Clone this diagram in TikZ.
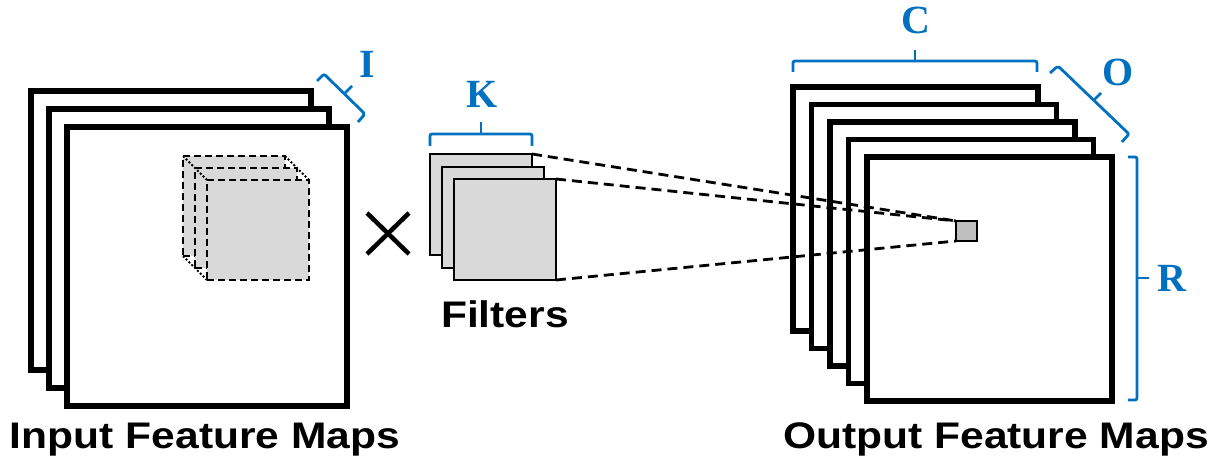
\documentclass[tikz,border=0pt]{standalone}
\usepackage{fontspec}
\setmainfont{Liberation Sans}
\newfontfamily\labfont{Liberation Serif}
\definecolor{bblue}{HTML}{0070C0}
\definecolor{lgray}{HTML}{D9D9D9}
\definecolor{mgray}{HTML}{BFBFBF}
\begin{document}
\begin{tikzpicture}[x=1pt,y=-1pt,
  plane/.style={draw=black, line width=5.5pt, fill=white, inner sep=0pt, outer sep=0pt, anchor=north west},
  inplane/.style={plane, minimum width=280pt, minimum height=279pt},
  outplane/.style={plane, minimum width=245pt, minimum height=244pt},
  cubeface/.style={draw=black, line width=2.7pt, dash pattern=on 7pt off 4pt, fill=lgray, inner sep=0pt, outer sep=0pt, anchor=north west, minimum width=102pt, minimum height=100pt},
  filterface/.style={draw=black, line width=2.8pt, fill=lgray, inner sep=0pt, outer sep=0pt, anchor=north west, minimum width=102pt, minimum height=101pt},
  cell/.style={draw=black, line width=2.8pt, fill=mgray, inner sep=0pt, outer sep=0pt, anchor=north west, minimum width=21pt, minimum height=20pt},
  bracket/.style={draw=bblue, line width=2.8pt, rounded corners=2pt},
  dimlabel/.style={text=bblue, font=\labfont\bfseries\fontsize{40}{44}\selectfont, anchor=base, inner sep=0pt},
  caption/.style={font=\bfseries\fontsize{37}{42}\selectfont, anchor=base, inner sep=0pt},
  rays/.style={draw=black, line width=2.8pt, dash pattern=on 10pt off 6pt},
  hidden/.style={draw=black, line width=2pt, dotted}
]
\useasboundingbox[fill=white] (0,0) rectangle (1211,465);

% input feature maps
\node[inplane] (in1) at (31,91) {};
\node[inplane] (in2) at (49,109) {};
\node[inplane] (in3) at (67,127) {};

% window cube
\node[cubeface] (c1) at (183,156) {};
\node[cubeface] (c2) at (195,168) {};
\node[cubeface] (c3) at (207,180) {};
\draw[hidden] (c1.north west) -- (c3.north west);
\draw[hidden] (c1.north east) -- (c3.north east);
\draw[hidden] (c1.south west) -- (c3.south west);

% I bracket
\coordinate (ia) at (317,81);
\coordinate (ib) at (324,74);
\coordinate (ic) at (365,114);
\coordinate (id) at (358,122);
\coordinate (it0) at (345,93);
\coordinate (it1) at (352,86);
\draw[bracket] (ia) -- (ib) -- (ic) -- (id);
\draw[bracket] (it0) -- (it1);
\node[dimlabel] (ilab) at (367,78) {I};

% times sign
\coordinate (x1) at (367,213);
\coordinate (x2) at (409,254);
\coordinate (x3) at (367,254);
\coordinate (x4) at (409,213);
\draw[line width=4.5pt] (x1) -- (x2);
\draw[line width=4.5pt] (x3) -- (x4);

% filters
\node[filterface] (f1) at (430,154) {};
\node[filterface] (f2) at (442,167) {};
\node[filterface] (f3) at (454,179) {};
\coordinate (ka) at (430,146);
\coordinate (kb) at (430,134);
\coordinate (kc) at (532,134);
\coordinate (kd) at (532,146);
\coordinate (kt0) at (481,134);
\coordinate (kt1) at (481,122);
\draw[bracket] (ka) -- (kb) -- (kc) -- (kd);
\draw[bracket] (kt0) -- (kt1);
\node[dimlabel] (klab) at (482,108) {K};
\node[caption] (flab) at (505,327.5) {\scalebox{1.15}[1]{Filters}};

% output feature maps
\node[outplane] (o1) at (793,87) {};
\node[outplane] (o2) at (811.5,104.5) {};
\node[outplane] (o3) at (830,122) {};
\node[outplane] (o4) at (848.5,139.5) {};
\node[outplane] (o5) at (867,157) {};
\node[cell] (sq) at (956,221) {};

% C bracket
\coordinate (ca) at (793,72);
\coordinate (cb) at (793,61);
\coordinate (cc) at (1037,61);
\coordinate (cd) at (1037,72);
\coordinate (ct0) at (915,61);
\coordinate (ct1) at (915,50);
\draw[bracket] (ca) -- (cb) -- (cc) -- (cd);
\draw[bracket] (ct0) -- (ct1);
\node[dimlabel] (clab) at (916,34) {C};

% O bracket
\coordinate (oa) at (1050,73);
\coordinate (ob) at (1058,66);
\coordinate (oc) at (1129,134);
\coordinate (od) at (1122,142);
\coordinate (ot0) at (1094,100);
\coordinate (ot1) at (1101,93);
\draw[bracket] (oa) -- (ob) -- (oc) -- (od);
\draw[bracket] (ot0) -- (ot1);
\node[dimlabel] (olab) at (1118,86) {O};

% R bracket
\coordinate (ra) at (1128,157);
\coordinate (rb) at (1137,157);
\coordinate (rc) at (1137,400);
\coordinate (rd) at (1128,400);
\coordinate (rt0) at (1137,278);
\coordinate (rt1) at (1149,278);
\draw[bracket] (ra) -- (rb) -- (rc) -- (rd);
\draw[bracket] (rt0) -- (rt1);
\node[dimlabel] (rlab) at (1172,292) {R};

% projection rays
\draw[rays] (f1.north east) -- (sq.north west);
\draw[rays] (f3.north east) -- (sq.north west);
\draw[rays] (f3.south east) -- (sq.south west);

% captions
\node[caption] (inlab) at (205,448) {\scalebox{1.15}[1]{Input Feature Maps}};
\node[caption] (outlab) at (996,448) {\scalebox{1.15}[1]{Output Feature Maps}};
\end{tikzpicture}
\end{document}
